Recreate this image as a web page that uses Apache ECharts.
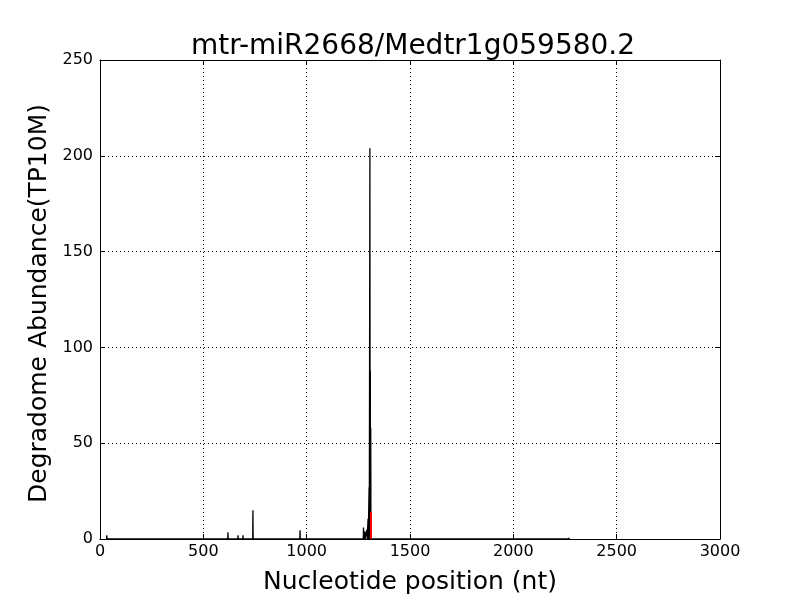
<!DOCTYPE html>
<html><head><meta charset="utf-8">
<script src="https://cdn.jsdelivr.net/npm/echarts@6/dist/echarts.min.js"></script>
<style>html,body{margin:0;padding:0;background:#fff}#c{width:800px;height:600px}</style>
</head><body><div id="c"></div>
<script>
const title = "mtr-miR2668/Medtr1g059580.2";
const xTicks = [0, 500, 1000, 1500, 2000, 2500, 3000];
const yTicks = [0, 50, 100, 150, 200, 250];
const positions = [33, 619, 668, 692, 740, 750, 793, 968, 977, 1040, 1048, 1075, 1275, 1279, 1282, 1292, 1297, 1302, 1306, 1308, 1310, 1577, 1602, 1774, 1903, 2210, 2250, 2270];
const abundance = [2, 3.5, 2, 2, 15, 1, 0.5, 4.5, 1, 0.5, 0.5, 0.5, 6, 3, 4, 5, 10.5, 27, 204, 88, 58, 0.5, 0.5, 1, 0.5, 0.5, 0.7, 0.7];
const targetPos = [1311];
const targetVal = [14];

const lineData = [];
positions.forEach((p, i) => {
  lineData.push([p - 1, 0], [p, abundance[i]], [p + 1, 0]);
});
const redData = [];
targetPos.forEach((p, i) => { redData.push([p, 0], [p, targetVal[i]], null); });

const font = "DejaVu Sans";
const chart = echarts.init(document.getElementById('c'));
const axisCommon = {
  type: 'value', min: 0,
  axisLine: { show: true, onZero: false, lineStyle: { color: '#000', width: 1 } },
  axisTick: { show: true, inside: true, length: 5, lineStyle: { color: '#000' } },
};
const fmt = v => String(v);
chart.setOption({
  animation: false,
  backgroundColor: '#fff',
  title: { text: title, left: 408, top: 28, textAlign: 'center',
    textStyle: { fontFamily: font, fontSize: 28, fontWeight: 'normal', color: '#000' } },
  grid: { left: 100, right: 80, top: 60, bottom: 60 },
  xAxis: [
    Object.assign({}, axisCommon, { max: xTicks[xTicks.length - 1], interval: 500, position: 'bottom',
      name: 'Nucleotide position (nt)', nameLocation: 'middle', nameGap: 31,
      nameTextStyle: { fontFamily: font, fontSize: 25, color: '#000', verticalAlign: 'top' },
      axisLabel: { fontFamily: font, fontSize: 16, color: '#000', margin: 5, formatter: fmt },
      splitLine: { show: true, lineStyle: { type: [1, 3], color: '#000', width: 1 } } }),
    Object.assign({}, axisCommon, { max: xTicks[xTicks.length - 1], interval: 500, position: 'top',
      axisLabel: { show: false }, splitLine: { show: false } })
  ],
  yAxis: [
    Object.assign({}, axisCommon, { max: yTicks[yTicks.length - 1], interval: 50, position: 'left',
      name: 'Degradome Abundance(TP10M)', nameLocation: 'middle', nameGap: 37,
      nameTextStyle: { fontFamily: font, fontSize: 25, color: '#000', verticalAlign: 'bottom', padding: [0, 8, 0, 0] },
      axisLabel: { fontFamily: font, fontSize: 16, color: '#000', margin: 7, formatter: fmt },
      splitLine: { show: true, lineStyle: { type: [1, 3], color: '#000', width: 1 } } }),
    Object.assign({}, axisCommon, { max: yTicks[yTicks.length - 1], interval: 50, position: 'right',
      axisLabel: { show: false }, splitLine: { show: false } })
  ],
  series: [
    { type: 'line', data: lineData, symbol: 'none', xAxisIndex: 0, yAxisIndex: 0,
      lineStyle: { color: '#000', width: 1.3 }, z: 3 },
    { type: 'line', data: redData, symbol: 'none', xAxisIndex: 0, yAxisIndex: 0,
      lineStyle: { color: '#ff0000', width: 2 }, z: 4 }
  ]
});
</script></body></html>
